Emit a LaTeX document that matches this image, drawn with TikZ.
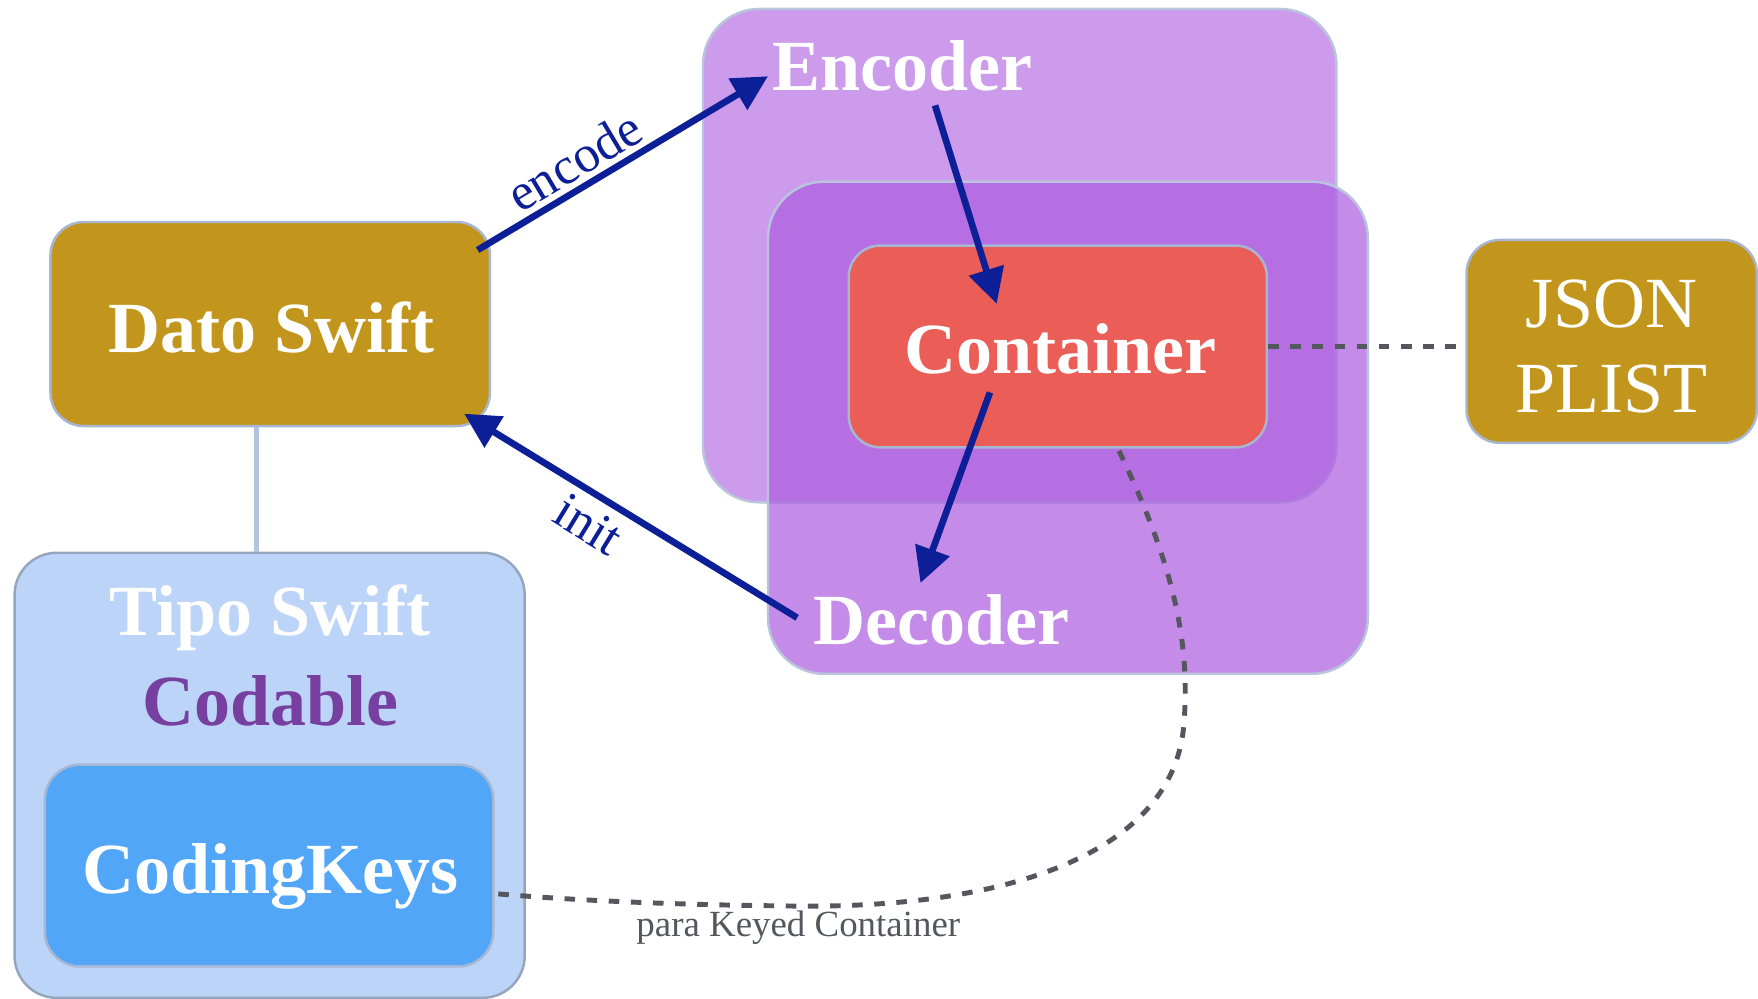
\documentclass[tikz,border=0pt]{standalone}
\usepackage{fontspec}
\setmainfont{Liberation Serif}
\usetikzlibrary{arrows.meta,fit}
\definecolor{gold}{HTML}{C2961C}
\definecolor{bord}{HTML}{A7B7D3}
\definecolor{tipofill}{HTML}{BCD4F7}
\definecolor{ckfill}{HTML}{52A6F8}
\definecolor{encfill}{HTML}{CC9BEC}
\definecolor{decfill}{RGB}{173,95,223}
\definecolor{contfill}{HTML}{EB5D57}
\definecolor{codable}{HTML}{763FA0}
\definecolor{arrowblue}{HTML}{0D1F96}
\definecolor{dashgray}{HTML}{54585E}
\definecolor{linkblue}{HTML}{B4C4DE}
\tikzset{
  box/.style={draw=bord, line width=0.7pt, inner sep=0pt},
  bigtxt/.style={text=white, font=\fontsize{20.5}{23}\selectfont\bfseries, inner sep=0pt},
  regtxt/.style={text=white, font=\fontsize{20.5}{23}\selectfont, inner sep=0pt},
  flow/.style={draw=arrowblue, line width=1.9pt, -{Triangle[length=10pt,width=10pt]}},
  flowlabel/.style={text=arrowblue, font=\fontsize{14.8}{17}\selectfont, inner sep=0pt},
  dashlink/.style={draw=dashgray, line width=1.4pt, dash pattern=on 3pt off 3.3pt},
}
\begin{document}
\begin{tikzpicture}[x=0.011212cm, y=-0.011212cm]
\useasboundingbox (0,0) rectangle (1568,891);

% boxes
\node[box, fill=gold, rounded corners=9.5pt, fit={(45,198) (437,380)}] (dato) {};
\node[box, fill=tipofill, draw=bord!90!black, rounded corners=12pt, fit={(13,493) (468,890)}] (tipo) {};
\node[box, fill=ckfill, rounded corners=10pt, fit={(40,682) (440,862)}] (ck) {};
\node[box, fill=encfill, draw=bord!80!white, rounded corners=16pt, fit={(627,8) (1192,448)}] (enc) {};
\node[box, fill=decfill, fill opacity=0.72, draw=bord!80!white, rounded corners=16pt, fit={(685,162) (1220,601)}] (dec) {};
\node[box, fill=contfill, rounded corners=9pt, fit={(757,219) (1130,399)}] (cont) {};
\node[box, fill=gold, rounded corners=9.5pt, fit={(1308,214) (1567,395)}] (json) {};

% link between Dato and Tipo
\coordinate (linkx) at (229,0);
\draw[linkblue, line width=1.4pt] (linkx |- dato.south) -- (linkx |- tipo.north);

% texts
\node[bigtxt, anchor=base] (datot) at (242,314) {Dato Swift};
\node[bigtxt, anchor=base] (enct) at (805,81) {Encoder};
\node[bigtxt, anchor=base] (contt) at (946,333) {Container};
\node[bigtxt, anchor=base] (dect) at (840,575) {Decoder};
\node[bigtxt, anchor=base] (tipot) at (241,567) {Tipo Swift};
\node[bigtxt, anchor=base, text=codable] (codt) at (241,647) {Codable};
\node[bigtxt, anchor=base] (ckt) at (241,797) {CodingKeys};
\node[regtxt, anchor=base] (jsont) at (1437,292) {JSON};
\node[regtxt, anchor=base] (plistt) at (1437,368) {PLIST};

% arrow end points
\coordinate (encS) at (426,223);
\coordinate (encE) at (685,68);
\coordinate (initS) at (711,551);
\coordinate (initE) at (414,369);
\coordinate (e2cS) at (834,94);
\coordinate (e2cE) at (889,271);
\coordinate (c2dS) at (883,350);
\coordinate (c2dE) at (821,520);

\draw[flow] (encS) -- node[flowlabel, sloped, above=1.5pt, pos=0.38] (encl) {encode} (encE);
\draw[flow] (initS) -- node[flowlabel, sloped, below=2.5pt, pos=0.58] (initl) {init} (initE);
\draw[flow] (e2cS) -- (e2cE);
\draw[flow] (c2dS) -- (c2dE);

% dashed links
\draw[dashlink] (cont.east) -- (cont.east -| json.west);
\coordinate (kcS) at (998,402);
\coordinate (kcE) at (441,797);
\draw[dashlink] (kcS) .. controls (1045,500) and (1062,570) .. (1056,645)
  .. controls (1048,760) and (900,812) .. (700,808)
  .. controls (600,807) and (510,803) .. (kcE);
\node[text=dashgray, font=\fontsize{10.5}{12}\selectfont, anchor=base, inner sep=0pt] (kcl) at (712,835) {para Keyed Container};
\end{tikzpicture}
\end{document}
